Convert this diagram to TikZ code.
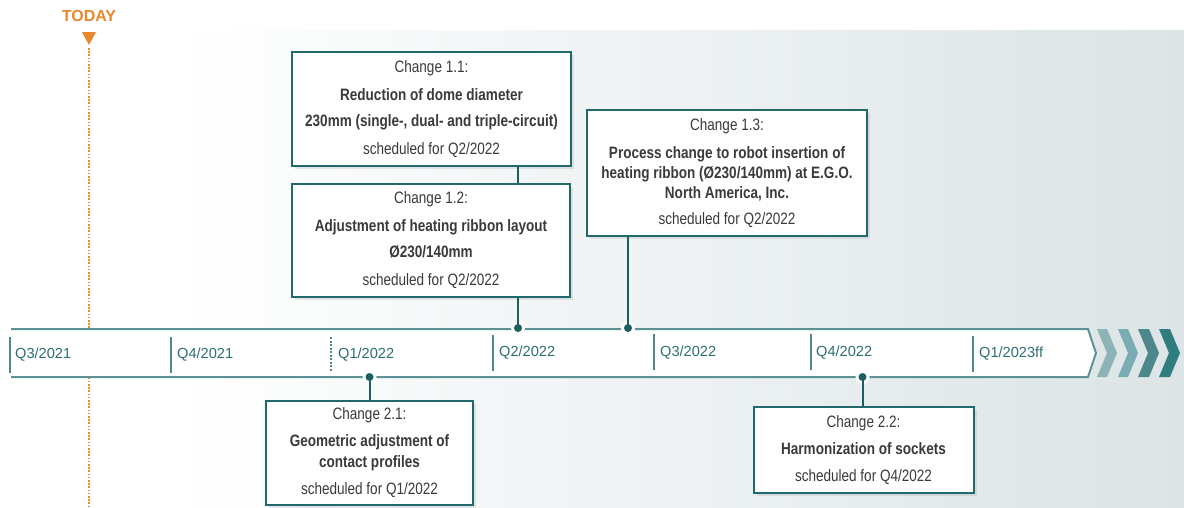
\documentclass[tikz,border=0pt]{standalone}
\usepackage{fontspec}
\setmainfont{Liberation Sans}
\newfontfamily\narrowfont[FakeStretch=0.82]{Liberation Sans}
\usetikzlibrary{shadows}
\definecolor{boxteal}{HTML}{21696B}
\definecolor{connteal}{HTML}{1D5E60}
\definecolor{bandline}{HTML}{5E9194}
\definecolor{tickcol}{HTML}{4F888B}
\definecolor{labteal}{HTML}{2D6E72}
\definecolor{todayor}{HTML}{E8892E}
\definecolor{txtgray}{HTML}{3A3A3A}
\definecolor{bgright}{HTML}{DCE4E6}
\definecolor{chevA}{HTML}{8CB4B7}
\definecolor{chevB}{HTML}{7AADB1}
\definecolor{chevC}{HTML}{4E878B}
\definecolor{chevD}{HTML}{2F7D7F}
\tikzset{
  changebox/.style={draw=boxteal, line width=2pt, fill=white, rectangle, inner sep=0pt,
    align=center, text=txtgray, font=\narrowfont\fontsize{16.5}{20}\selectfont,
    drop shadow={opacity=0.18, shadow xshift=3pt, shadow yshift=-3pt}},
  conn/.style={draw=connteal, line width=2pt},
  tdot/.style={circle, fill=connteal, inner sep=0pt, minimum size=8pt},
  halo/.style={circle, fill=white, inner sep=0pt, minimum size=14pt},
  qlabel/.style={anchor=west, text=labteal, font=\fontsize{14.6}{17}\selectfont, inner sep=0pt},
  qtick/.style={draw=tickcol, line width=2pt},
  chev/.style={line width=0pt}
}
\begin{document}
\begin{tikzpicture}[x=1pt,y=-1pt]
\useasboundingbox (0,0) rectangle (1184,507);
% background
\fill[white] (0,0) rectangle (1184,507);
\shade[left color=white, right color=bgright] (170,30) rectangle (1184,507);
% today marker
\node[text=todayor, font=\bfseries\fontsize{16}{19}\selectfont, inner sep=0pt] (today) at (89,16) {TODAY};
\fill[todayor] (82,32) -- (96,32) -- (89,45) -- cycle;
\draw[todayor, line width=1.6pt, dash pattern=on 1.6pt off 1.6pt] (89,48) -- (89,507);
% timeline band
\fill[white] (11,329) -- (1088,329) -- (1096,353) -- (1088,377) -- (11,377) -- cycle;
\draw[bandline, line width=2pt] (11,329) -- (1088,329) -- (1096,353) -- (1088,377) -- (11,377);
% ticks
\draw[qtick] (10,337) -- (10,373);
\draw[qtick] (171,337) -- (171,373);
\draw[tickcol, line width=2pt, dash pattern=on 2pt off 1.5pt] (331,337) -- (331,372);
\draw[qtick] (493,335) -- (493,371);
\draw[qtick] (654,334) -- (654,370);
\draw[qtick] (811,334) -- (811,370);
\draw[qtick] (973,336) -- (973,372);
% labels
\node[qlabel] (q1) at (15,355) {Q3/2021};
\node[qlabel] (q2) at (177,355) {Q4/2021};
\node[qlabel] (q3) at (338,355) {Q1/2022};
\node[qlabel] (q4) at (499,353) {Q2/2022};
\node[qlabel] (q5) at (660,353) {Q3/2022};
\node[qlabel] (q6) at (816,353) {Q4/2022};
\node[qlabel] (q7) at (979,354) {Q1/2023ff};
% chevrons
\fill[chevA] (1097,329) -- (1107,329) -- (1117,353) -- (1107,377) -- (1097,377) -- (1107,353) -- cycle;
\fill[chevB] (1118,329) -- (1128,329) -- (1138,353) -- (1128,377) -- (1118,377) -- (1128,353) -- cycle;
\fill[chevC] (1138,329) -- (1149,329) -- (1159,353) -- (1149,377) -- (1138,377) -- (1148,353) -- cycle;
\fill[chevD] (1159,329) -- (1170,329) -- (1180,353) -- (1170,377) -- (1159,377) -- (1169,353) -- cycle;
% boxes
\node[changebox, minimum width=279pt, minimum height=114pt] (b11) at (431.5,109)
  {Change 1.1:\\[8pt] {\bfseries Reduction of dome diameter}\\[6pt] {\bfseries 230mm (single-, dual- and triple-circuit)}\\[8pt] scheduled for Q2/2022};
\node[changebox, minimum width=278pt, minimum height=113pt] (b12) at (431,240.5)
  {Change 1.2:\\[8pt] {\bfseries Adjustment of heating ribbon layout}\\[6pt] {\bfseries Ø230/140mm}\\[8pt] scheduled for Q2/2022};
\node[changebox, minimum width=280pt, minimum height=126pt] (b13) at (727,173)
  {Change 1.3:\\[8pt] {\bfseries Process change to robot insertion of}\\ {\bfseries heating ribbon (Ø230/140mm) at E.G.O.}\\ {\bfseries North America, Inc.}\\[6.5pt] scheduled for Q2/2022};
\node[changebox, minimum width=207pt, minimum height=104pt] (b21) at (369.5,453)
  {Change 2.1:\\[7pt] {\bfseries Geometric adjustment of}\\[1pt] {\bfseries contact profiles}\\[7pt] scheduled for Q1/2022};
\node[changebox, minimum width=220pt, minimum height=86pt] (b22) at (863.5,450)
  {Change 2.2:\\[7pt] {\bfseries Harmonization of sockets}\\[7pt] scheduled for Q4/2022};
% dots
\node[halo] (h12) at (518,328) {};
\node[halo] (h13) at (628,328) {};
\node[halo] (h21) at (369.5,377) {};
\node[halo] (h22) at (862.5,377) {};
\node[tdot] (d12) at (518,328) {};
\node[tdot] (d13) at (628,328) {};
\node[tdot] (d21) at (369.5,377) {};
\node[tdot] (d22) at (862.5,377) {};
% connectors
\draw[conn] (d12 |- b11.south) -- (d12 |- b12.north);
\draw[conn] (d12 |- b12.south) -- (d12.center);
\draw[conn] (d13 |- b13.south) -- (d13.center);
\draw[conn] (d21.center) -- (d21 |- b21.north);
\draw[conn] (d22.center) -- (d22 |- b22.north);
\end{tikzpicture}
\end{document}
